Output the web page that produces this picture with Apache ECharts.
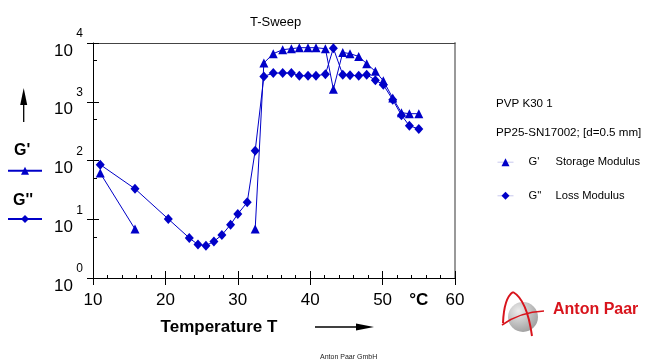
<!DOCTYPE html>
<html><head><meta charset="utf-8">
<script src="https://cdn.jsdelivr.net/npm/echarts@6/dist/echarts.min.js"></script>
<style>html,body{margin:0;padding:0;background:#fff}#c{width:647px;height:362px}</style>
</head><body><div id="c"></div>
<script>
// ---- data ----
const temps = [11.0, 15.8, 20.4, 23.3, 24.5, 25.6, 26.7, 27.8, 29.0, 30.0, 31.3, 32.4,
  33.6, 34.9, 36.2, 37.4, 38.5, 39.7, 40.8, 42.1, 43.2, 44.5, 45.5, 46.7, 47.8, 49.0,
  50.1, 51.4, 52.6, 53.7, 55.0];
const storageModulus = [61, 6.8, null, null, null, null, null, null, null, null, null, 6.8,
  4570, 6580, 7690, 8000, 8320, 8320, 8320, 8000, 1635, 6920, 6580, 5910, 4440, 3290,
  2280, 1160, 651, 626, 626];
const lossModulus = [85, 33, 10.1, 4.8, 3.7, 3.55, 4.2, 5.4, 8.1, 12.3, 19.4, 147,
  2700, 3080, 3080, 3080, 2775, 2775, 2775, 2940, 8150, 2885, 2830, 2775, 2885, 2330,
  1950, 1080, 590, 391, 344];
const xTickLabels = [10, 20, 30, 40, 50, 55, 60];   // 55 carries the unit label
const unitLabel = '°C';
const yMinorTicks = [5, 50, 500, 5000];
const titleText = 'T-Sweep';
const xName = 'Temperature T';
const sampleLines = ['PVP K30 1', 'PP25-SN17002; [d=0.5 mm]'];
const legendNames = ["G'", "G''"];
const legendDesc = ['Storage Modulus', 'Loss Modulus'];

const FONT = '"Liberation Sans", Arial, Helvetica, sans-serif';
const BLUE = '#0000c8';
const pairs = vals => temps.map((t, i) => [t, vals[i] == null ? '-' : vals[i]]);

const chart = echarts.init(document.getElementById('c'), null, {renderer: 'canvas'});

const xBase = {type: 'value', min: 10, max: 60, interval: 10, splitLine: {show: false}};
const yBase = {type: 'log', logBase: 10, min: 1, max: 10000, splitLine: {show: false}};

chart.setOption({
  animation: false,
  backgroundColor: '#fff',
  textStyle: {fontFamily: FONT},
  title: {
    text: titleText, left: 245, top: 11,
    textStyle: {fontSize: 13, fontWeight: 'normal', color: '#000', fontFamily: FONT}
  },
  grid: {left: 93, top: 43, width: 362, height: 235, containLabel: false, outerBoundsMode: 'none'},
  xAxis: [
    Object.assign({}, xBase, {
      position: 'bottom',
      axisLine: {lineStyle: {color: '#000', width: 1}},
      axisTick: {length: 7, lineStyle: {color: '#000'}},
      axisLabel: {
        customValues: xTickLabels, margin: 14, fontSize: 17, color: '#000', fontFamily: FONT,
        formatter: v => v === 55 ? '{u|' + unitLabel + '}' : String(v),
        rich: {u: {fontSize: 17, fontWeight: 'bold', color: '#000', fontFamily: FONT}}
      },
      name: xName, nameLocation: 'middle', nameGap: 41,
      nameTextStyle: {fontSize: 17, fontWeight: 'bold', color: '#000', fontFamily: FONT, padding: [0, 110, 0, 0]}
    }),
    Object.assign({}, xBase, {
      position: 'bottom',
      axisLine: {show: false},
      axisTick: {inside: true, length: 7, lineStyle: {color: '#000'}},
      minorTick: {show: true, splitNumber: 5, length: 3, lineStyle: {color: '#000'}},
      axisLabel: {show: false}
    }),
    Object.assign({}, xBase, {
      position: 'top',
      axisLine: {lineStyle: {color: '#444', width: 1}},
      axisTick: {show: false}, axisLabel: {show: false}
    })
  ],
  yAxis: [
    Object.assign({}, yBase, {
      position: 'left',
      axisLine: {lineStyle: {color: '#000', width: 1}},
      axisTick: {length: 6, lineStyle: {color: '#000'}},
      axisLabel: {
        margin: 10, color: '#000', fontFamily: FONT,
        formatter: v => '{e|' + Math.round(Math.log10(v)) + '}\n{b|10}',
        rich: {
          e: {fontSize: 12, lineHeight: 16, align: 'right', color: '#000', fontFamily: FONT},
          b: {fontSize: 17, lineHeight: 18, align: 'right', padding: [0, 10, 0, 0], color: '#000', fontFamily: FONT}
        }
      }
    }),
    Object.assign({}, yBase, {
      position: 'left',
      axisLine: {show: false},
      axisTick: {inside: true, length: 6, lineStyle: {color: '#000'}},
      axisLabel: {show: false}
    }),
    Object.assign({}, yBase, {
      position: 'left',
      axisLine: {show: false},
      axisTick: {inside: true, length: 4, customValues: yMinorTicks, lineStyle: {color: '#000'}},
      axisLabel: {show: false}
    }),
    Object.assign({}, yBase, {
      position: 'right',
      axisLine: {lineStyle: {color: '#999', width: 2}},
      axisTick: {show: false}, axisLabel: {show: false}
    })
  ],
  legend: [
    {
      data: legendNames, orient: 'vertical', left: 497, top: 156.7, padding: 0,
      itemWidth: 16, itemHeight: 10, itemGap: 22.6, selectedMode: false,
      lineStyle: {color: '#c8c8ee', width: 1},
      formatter: name => '{a|' + name + '}{b|' + legendDesc[legendNames.indexOf(name)] + '}',
      textStyle: {
        fontSize: 11, lineHeight: 10, color: '#000', fontFamily: FONT,
        rich: {
          a: {fontSize: 11.2, lineHeight: 10, width: 27, padding: [0, 0, 0, 10], color: '#000', fontFamily: FONT},
          b: {fontSize: 11.2, lineHeight: 10, color: '#000', fontFamily: FONT}
        }
      }
    },
    {
      data: [legendNames[0]], left: 7, top: 166.7, padding: 0, itemWidth: 34, itemHeight: 10,
      selectedMode: false, formatter: () => '', textStyle: {fontSize: 1, lineHeight: 1}
    },
    {
      data: [legendNames[1]], left: 7, top: 215, padding: 0, itemWidth: 34, itemHeight: 10,
      selectedMode: false, formatter: () => '', textStyle: {fontSize: 1, lineHeight: 1}
    }
  ],
  series: [
    {
      name: legendNames[0], type: 'line', xAxisIndex: 0, yAxisIndex: 0,
      data: pairs(storageModulus), connectNulls: false,
      symbol: 'triangle', symbolSize: 9,
      lineStyle: {color: BLUE, width: 1}, itemStyle: {color: BLUE}
    },
    {
      name: legendNames[1], type: 'line', xAxisIndex: 0, yAxisIndex: 0,
      data: pairs(lossModulus), connectNulls: false,
      symbol: 'diamond', symbolSize: [9, 10],
      lineStyle: {color: BLUE, width: 1}, itemStyle: {color: BLUE}
    }
  ],
  graphic: [
    // left side labels
    {type: 'text', left: 14, top: 143, style: {text: "G'", font: 'bold 16px ' + FONT, fill: '#000'}},
    {type: 'text', left: 13, top: 193, style: {text: "G''", font: 'bold 16px ' + FONT, fill: '#000'}},
    // up arrow
    {type: 'line', shape: {x1: 23.7, y1: 122, x2: 23.7, y2: 102}, style: {stroke: '#000', lineWidth: 1.3}},
    {type: 'polygon', shape: {points: [[23.7, 88], [20.2, 105], [27.2, 105]]}, style: {fill: '#000'}},
    // right arrow
    {type: 'line', shape: {x1: 315, y1: 327, x2: 358, y2: 327}, style: {stroke: '#000', lineWidth: 1.3}},
    {type: 'polygon', shape: {points: [[374, 327], [356, 323.5], [356, 330.5]]}, style: {fill: '#000'}},
    // sample description
    {type: 'text', left: 496, top: 98, style: {text: sampleLines[0], font: '11.6px ' + FONT, fill: '#000'}},
    {type: 'text', left: 496, top: 127, style: {text: sampleLines[1], font: '11.6px ' + FONT, fill: '#000'}},
    // logo
    {type: 'circle', shape: {cx: 523, cy: 317, r: 15},
      style: {fill: new echarts.graphic.RadialGradient(0.35, 0.3, 0.8, [
        {offset: 0, color: '#ececec'}, {offset: 1, color: '#9a9a9a'}])}},
    {type: 'bezierCurve', shape: {x1: 503, y1: 323, cpx1: 504, cpy1: 298, x2: 513, y2: 292},
      style: {stroke: '#d8141c', lineWidth: 2, fill: null}},
    {type: 'bezierCurve', shape: {x1: 513, y1: 292, cpx1: 527, cpy1: 300, x2: 532, y2: 336},
      style: {stroke: '#d8141c', lineWidth: 2, fill: null}},
    {type: 'bezierCurve', shape: {x1: 502, y1: 325, cpx1: 520, cpy1: 312, x2: 544, y2: 311},
      style: {stroke: '#d8141c', lineWidth: 1.6, fill: null}},
    {type: 'text', left: 553, top: 302, style: {text: 'Anton Paar', font: 'bold 16px ' + FONT, fill: '#d8141c'}},
    {type: 'text', left: 320, top: 354, style: {text: 'Anton Paar GmbH', font: '7px ' + FONT, fill: '#222'}}
  ]
});
</script>
</body></html>
